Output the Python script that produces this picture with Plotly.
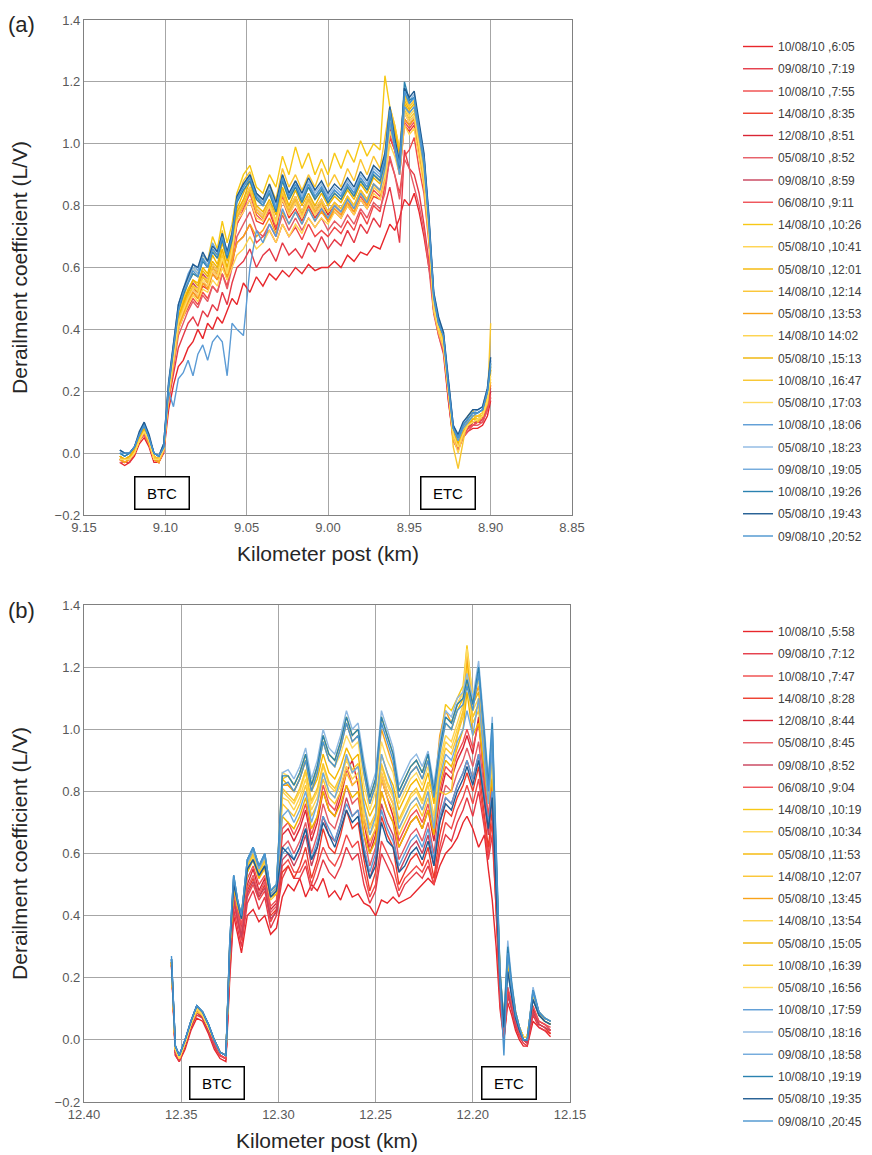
import plotly.graph_objects as go

# ---------------- Panel (a) ----------------
X_A = [9.128, 9.125, 9.122, 9.119, 9.116, 9.113, 9.110, 9.107, 9.104, 9.101,
       9.098, 9.095, 9.092, 9.089, 9.086, 9.083, 9.080, 9.077, 9.074, 9.071,
       9.068, 9.065, 9.062, 9.059, 9.056, 9.052, 9.048, 9.044, 9.040, 9.036,
       9.032, 9.028, 9.024, 9.020, 9.016, 9.012, 9.008, 9.004, 9.000, 8.996,
       8.992, 8.988, 8.984, 8.980, 8.976, 8.972, 8.968, 8.965, 8.962, 8.959,
       8.956, 8.953, 8.950, 8.947, 8.944, 8.941, 8.938, 8.935, 8.932, 8.929,
       8.926, 8.923, 8.920, 8.917, 8.914, 8.911, 8.908, 8.905, 8.902, 8.900]

LABELS_A = ["10/08/10 ,6:05", "09/08/10 ,7:19", "10/08/10 ,7:55", "14/08/10 ,8:35",
            "12/08/10 ,8:51", "05/08/10 ,8:52", "09/08/10 ,8:59", "06/08/10 ,9:11",
            "14/08/10 ,10:26", "05/08/10 ,10:41", "05/08/10 ,12:01", "14/08/10 ,12:14",
            "05/08/10 ,13:53", "14/08/10 14:02", "05/08/10 ,15:13", "10/08/10 ,16:47",
            "05/08/10 ,17:03", "10/08/10 ,18:06", "05/08/10 ,18:23", "09/08/10 ,19:05",
            "10/08/10 ,19:26", "05/08/10 ,19:43", "09/08/10 ,20:52"]

A01 = [-.03,-.04,-.03,-.01,.03,.05,.02,-.03,-.03,.00,
       .14,.22,.28,.30,.34,.36,.40,.37,.42,.40,
       .44,.42,.46,.50,.48,.55,.52,.57,.54,.58,
       .56,.59,.57,.60,.58,.61,.59,.60,.60,.62,
       .60,.64,.62,.65,.64,.67,.66,.70,.74,.72,
       .76,.82,.80,.84,.78,.70,.60,.50,.42,.34,
       .18,.04,.01,.05,.07,.08,.08,.09,.12,.17]
A02 = [-.02,-.03,-.03,.00,.04,.06,.03,-.02,-.03,.01,
       .17,.26,.34,.38,.42,.44,.41,.46,.44,.48,
       .46,.52,.48,.55,.60,.62,.66,.60,.64,.66,
       .62,.68,.64,.66,.63,.68,.65,.70,.66,.69,
       .67,.72,.68,.74,.71,.76,.73,.80,.86,.78,
       .68,.98,.92,.90,.84,.74,.62,.46,.38,.32,
       .17,.05,.02,.06,.08,.09,.10,.10,.14,.18]
A03 = [-.02,-.02,-.02,.00,.04,.07,.03,-.02,-.03,.01,
       .18,.30,.40,.44,.47,.50,.48,.52,.50,.54,
       .52,.58,.54,.62,.68,.70,.74,.68,.70,.72,
       .68,.74,.70,.73,.69,.74,.70,.72,.70,.73,
       .71,.75,.72,.78,.74,.80,.78,.86,.95,.90,
       .84,.96,.98,1.02,.92,.84,.68,.46,.40,.34,
       .19,.05,.02,.06,.08,.10,.10,.11,.15,.20]
A04 = [-.02,-.03,-.02,.00,.04,.07,.04,-.02,-.03,.01,
       .19,.30,.42,.46,.49,.52,.50,.54,.53,.58,
       .56,.62,.56,.64,.74,.78,.82,.75,.74,.78,
       .72,.82,.76,.79,.75,.80,.76,.79,.75,.78,
       .76,.80,.77,.82,.79,.83,.82,.88,1.02,.98,
       .90,1.06,1.04,1.06,.96,.88,.70,.46,.39,.35,
       .19,.05,.02,.06,.08,.10,.10,.11,.16,.22]
A05 = [-.01,-.02,-.02,.00,.04,.08,.04,-.01,-.02,.02,
       .20,.31,.43,.47,.51,.53,.52,.57,.55,.60,
       .58,.64,.58,.65,.76,.80,.85,.78,.76,.80,
       .74,.84,.78,.82,.77,.82,.78,.81,.77,.80,
       .78,.82,.79,.84,.81,.86,.84,.90,1.05,1.00,
       .92,1.08,1.06,1.08,.98,.88,.70,.47,.39,.35,
       .18,.05,.02,.06,.08,.10,.10,.11,.15,.20]
A06 = [-.03,-.03,-.02,.00,.04,.06,.03,-.02,-.03,.01,
       .17,.28,.38,.42,.46,.49,.47,.51,.49,.54,
       .52,.58,.53,.60,.70,.74,.78,.72,.70,.74,
       .70,.77,.72,.76,.72,.76,.73,.76,.72,.75,
       .73,.77,.74,.79,.76,.81,.79,.84,.96,.90,
       .82,.95,.92,.86,.80,.72,.60,.45,.38,.33,
       .17,.04,.01,.05,.07,.09,.09,.10,.14,.18]
A07 = [-.02,-.02,-.01,.01,.05,.08,.04,-.01,-.02,.02,
       .21,.32,.44,.48,.52,.55,.53,.58,.56,.61,
       .59,.65,.59,.66,.77,.81,.86,.79,.77,.81,
       .75,.85,.79,.83,.78,.83,.79,.82,.78,.81,
       .79,.83,.80,.85,.82,.87,.85,.91,1.06,1.01,
       .93,1.10,1.07,1.09,.99,.89,.71,.48,.40,.35,
       .19,.05,.02,.06,.08,.10,.10,.11,.16,.21]
A08 = [-.02,-.03,-.02,.00,.05,.07,.04,-.02,-.03,.01,
       .19,.30,.41,.45,.50,.53,.51,.55,.54,.59,
       .57,.62,.57,.63,.74,.79,.84,.77,.75,.79,
       .73,.83,.77,.81,.76,.81,.77,.80,.76,.79,
       .77,.81,.78,.83,.80,.85,.83,.89,1.03,.98,
       .90,1.07,1.05,1.07,.97,.88,.70,.47,.39,.35,
       .19,.05,.02,.06,.08,.09,.10,.11,.15,.19]
A09 = [-.01,-.02,-.01,.01,.05,.08,.04,-.01,-.02,.02,
       .20,.33,.46,.50,.56,.60,.58,.64,.62,.70,
       .66,.75,.68,.74,.84,.90,.93,.86,.84,.90,
       .86,.96,.90,.99,.92,.97,.90,.95,.90,.97,
       .92,.98,.94,1.01,.96,1.00,.98,1.22,1.12,1.06,
       .98,1.16,1.12,1.14,1.04,.94,.74,.49,.41,.37,
       .21,.07,.04,.08,.10,.12,.12,.13,.18,.28]
A10 = [-.02,-.03,-.02,.00,.04,.07,.03,-.02,-.03,.01,
       .18,.29,.40,.44,.48,.51,.49,.53,.52,.56,
       .54,.60,.56,.60,.64,.66,.70,.66,.68,.72,
       .68,.74,.70,.74,.71,.76,.73,.76,.74,.78,
       .76,.80,.77,.82,.79,.84,.82,.88,1.00,.96,
       .90,1.06,1.03,1.05,.96,.86,.69,.46,.39,.34,
       .20,.05,.00,.06,.09,.11,.11,.12,.17,.24]
A11 = [-.01,-.02,-.02,.01,.05,.08,.04,-.01,-.02,.02,
       .20,.32,.44,.49,.53,.56,.55,.60,.58,.64,
       .61,.68,.62,.68,.79,.84,.89,.82,.80,.84,
       .78,.88,.82,.86,.81,.86,.82,.85,.81,.84,
       .82,.86,.83,.88,.85,.90,.88,.96,1.10,1.05,
       .97,1.14,1.11,1.13,1.03,.93,.73,.49,.41,.37,
       .21,.07,.03,.07,.09,.11,.12,.12,.17,.27]
A12 = [-.02,-.02,-.01,.01,.05,.08,.04,-.01,-.02,.02,
       .21,.33,.45,.50,.55,.58,.57,.63,.60,.66,
       .63,.72,.64,.72,.82,.88,.91,.84,.82,.87,
       .82,.92,.86,.90,.85,.90,.86,.92,.86,.90,
       .86,.92,.88,.95,.90,.96,.92,1.02,1.12,1.06,
       .98,1.15,1.12,1.14,1.04,.94,.74,.49,.41,.37,
       .21,.08,.04,.08,.10,.12,.12,.13,.18,.29]
A13 = [-.02,-.03,-.02,.00,.04,.07,.03,-.02,-.03,.01,
       .18,.30,.41,.45,.49,.52,.50,.55,.53,.58,
       .56,.62,.57,.62,.68,.70,.74,.70,.72,.76,
       .71,.78,.74,.78,.74,.79,.75,.78,.75,.79,
       .77,.81,.78,.84,.80,.86,.84,.92,1.04,1.00,
       .93,1.08,1.06,1.08,.98,.88,.71,.47,.40,.35,
       .20,.06,.02,.06,.09,.10,.11,.12,.16,.23]
A14 = [-.02,-.02,-.01,.01,.05,.08,.04,-.01,-.02,.02,
       .20,.31,.43,.47,.51,.54,.53,.57,.56,.61,
       .59,.65,.59,.65,.77,.81,.86,.79,.77,.81,
       .75,.85,.79,.83,.78,.83,.79,.82,.78,.81,
       .79,.83,.80,.85,.82,.87,.85,.91,1.07,1.02,
       .95,1.12,1.09,1.11,1.01,.91,.72,.48,.40,.36,
       .20,.06,.03,.07,.09,.11,.11,.12,.17,.26]
A15 = [-.01,-.02,-.01,.01,.05,.08,.05,-.01,-.02,.02,
       .20,.32,.44,.48,.52,.56,.54,.59,.57,.62,
       .60,.66,.60,.67,.78,.82,.88,.80,.78,.82,
       .77,.86,.80,.85,.80,.84,.80,.84,.80,.83,
       .81,.85,.82,.87,.84,.89,.87,.94,1.09,1.04,
       .96,1.13,1.10,1.12,1.02,.92,.73,.48,.40,.36,
       .20,.07,.03,.07,.09,.11,.11,.12,.17,.27]
A16 = [-.02,-.02,-.02,.00,.04,.07,.04,-.01,-.02,.02,
       .19,.31,.43,.47,.51,.54,.52,.57,.55,.60,
       .58,.64,.58,.64,.76,.80,.85,.78,.76,.80,
       .74,.84,.78,.82,.77,.82,.78,.81,.78,.81,
       .79,.83,.80,.85,.82,.87,.85,.92,1.06,1.02,
       .94,1.11,1.08,1.10,1.00,.90,.72,.47,.40,.36,
       .22,.02,-.05,.04,.12,.14,.10,.12,.16,.42]
A17 = [-.02,-.02,-.02,.00,.04,.07,.04,-.02,-.02,.01,
       .19,.30,.42,.46,.50,.53,.51,.56,.54,.59,
       .57,.63,.58,.66,.75,.78,.82,.76,.75,.80,
       .74,.82,.77,.81,.76,.81,.77,.80,.76,.80,
       .78,.82,.79,.84,.81,.86,.84,.90,1.04,1.00,
       .92,1.10,1.07,1.09,.99,.89,.71,.47,.40,.35,
       .20,.06,.02,.06,.09,.10,.11,.12,.17,.25]
A18 = [.00,-.01,.00,.02,.06,.09,.05,.00,-.01,.02,
       .20,.15,.24,.26,.30,.25,.32,.35,.30,.36,
       .38,.36,.25,.42,.40,.38,.60,.72,.68,.74,
       .70,.79,.74,.78,.74,.79,.75,.79,.76,.80,
       .78,.82,.79,.84,.81,.87,.85,.92,1.07,.99,
       .90,1.12,1.10,1.12,1.02,.93,.74,.50,.42,.38,
       .22,.08,.04,.08,.10,.12,.13,.14,.20,.30]
A19 = [.00,-.01,.00,.02,.06,.09,.05,.00,-.01,.03,
       .22,.34,.47,.52,.56,.60,.58,.63,.61,.66,
       .64,.70,.64,.70,.82,.86,.90,.84,.81,.86,
       .80,.90,.84,.88,.83,.88,.84,.87,.83,.86,
       .84,.88,.85,.90,.87,.92,.90,.96,1.12,1.02,
       .94,1.18,1.14,1.16,1.06,.96,.76,.52,.43,.39,
       .23,.09,.05,.09,.11,.13,.14,.15,.21,.30]
A20 = [.01,.00,.00,.02,.06,.10,.05,.00,-.01,.03,
       .22,.35,.48,.53,.58,.61,.59,.64,.62,.68,
       .65,.71,.65,.71,.83,.87,.89,.83,.81,.85,
       .79,.89,.83,.87,.82,.87,.83,.86,.82,.85,
       .83,.87,.84,.89,.86,.91,.89,.95,1.11,1.00,
       .93,1.17,1.13,1.15,1.05,.96,.76,.51,.43,.38,
       .23,.09,.05,.09,.11,.13,.13,.14,.20,.29]
A21 = [.00,-.01,.00,.02,.06,.09,.05,.00,-.01,.02,
       .21,.34,.46,.51,.55,.58,.57,.62,.60,.65,
       .63,.69,.63,.69,.81,.85,.88,.82,.80,.84,
       .78,.88,.82,.86,.81,.86,.82,.85,.81,.84,
       .82,.86,.83,.88,.85,.90,.88,.94,1.10,1.00,
       .92,1.20,1.14,1.15,1.05,.95,.75,.51,.42,.38,
       .22,.08,.05,.09,.11,.13,.13,.14,.20,.28]
A22 = [.01,.00,.00,.02,.07,.10,.06,.00,-.01,.03,
       .23,.35,.48,.53,.57,.61,.60,.65,.62,.67,
       .65,.71,.65,.71,.83,.87,.90,.84,.82,.87,
       .81,.90,.84,.88,.84,.89,.85,.88,.84,.87,
       .85,.89,.86,.91,.88,.93,.91,.97,1.12,1.02,
       .94,1.18,1.15,1.17,1.07,.97,.77,.52,.44,.39,
       .24,.09,.06,.10,.12,.14,.14,.15,.21,.31]
A23 = [.00,.00,.00,.02,.06,.09,.05,.00,-.01,.02,
       .22,.34,.46,.52,.55,.59,.57,.63,.60,.66,
       .64,.70,.64,.70,.82,.86,.89,.83,.80,.85,
       .79,.89,.83,.87,.82,.87,.83,.86,.82,.85,
       .83,.87,.84,.89,.86,.91,.89,.95,1.11,1.00,
       .93,1.17,1.13,1.15,1.05,.95,.75,.51,.42,.38,
       .22,.08,.05,.09,.11,.13,.13,.14,.20,.29]

# ---------------- Panel (b) ----------------
X_B = [12.355, 12.353, 12.351, 12.348, 12.345, 12.342, 12.339, 12.336, 12.333, 12.330, 12.327, 12.325,
       12.323, 12.321, 12.319, 12.316, 12.313, 12.310, 12.307, 12.304, 12.301, 12.298, 12.295, 12.292,
       12.289, 12.286, 12.283, 12.280, 12.277, 12.274, 12.271, 12.268, 12.265, 12.262, 12.259, 12.256,
       12.253, 12.250, 12.247, 12.244, 12.241, 12.238, 12.235, 12.232, 12.229, 12.226, 12.223, 12.220,
       12.217, 12.214, 12.211, 12.208, 12.205, 12.203, 12.200, 12.197, 12.194, 12.192, 12.190, 12.188,
       12.186, 12.184, 12.182, 12.180, 12.178, 12.176, 12.174, 12.172, 12.169, 12.166, 12.163, 12.160]

LABELS_B = ["10/08/10 ,5:58", "09/08/10 ,7:12", "10/08/10 ,7:47", "14/08/10 ,8:28",
            "12/08/10 ,8:44", "05/08/10 ,8:45", "09/08/10 ,8:52", "06/08/10 ,9:04",
            "14/08/10 ,10:19", "05/08/10 ,10:34", "05/08/10 ,11:53", "14/08/10 ,12:07",
            "05/08/10 ,13:45", "14/08/10 ,13:54", "05/08/10 ,15:05", "10/08/10 ,16:39",
            "05/08/10 ,16:56", "10/08/10 ,17:59", "05/08/10 ,18:16", "09/08/10 ,18:58",
            "10/08/10 ,19:19", "05/08/10 ,19:35", "09/08/10 ,20:45"]

B01 = [.24,-.05,-.07,-.03,.03,.07,.06,.02,-.03,-.06,-.07,.20,
       .40,.34,.28,.40,.42,.38,.40,.34,.36,.46,.50,.48,
       .52,.46,.50,.48,.52,.46,.48,.45,.50,.46,.47,.44,
       .43,.40,.45,.44,.46,.44,.45,.46,.48,.50,.52,.50,
       .56,.60,.62,.65,.70,.72,.68,.62,.66,.55,.45,.30,
       .10,.00,.12,.08,.03,.00,-.02,-.02,.06,.04,.03,.01]
B02 = [.24,-.05,-.07,-.02,.04,.08,.07,.03,-.02,-.05,-.06,.22,
       .42,.36,.30,.44,.48,.42,.46,.36,.40,.52,.56,.52,
       .52,.56,.48,.52,.58,.54,.52,.56,.62,.58,.60,.50,
       .44,.48,.60,.56,.52,.46,.50,.52,.54,.52,.56,.50,
       .60,.66,.64,.70,.74,.78,.72,.80,.68,.58,.66,.42,
       .12,.00,.14,.10,.04,.01,-.01,-.02,.08,.04,.03,.02]
B03 = [.25,-.04,-.06,-.02,.04,.09,.07,.03,-.02,-.05,-.06,.24,
       .44,.38,.32,.46,.50,.45,.48,.38,.42,.56,.58,.54,
       .54,.58,.50,.56,.62,.58,.56,.60,.66,.62,.64,.54,
       .46,.50,.64,.60,.56,.48,.52,.54,.56,.54,.58,.50,
       .62,.70,.68,.74,.78,.82,.76,.84,.70,.60,.70,.44,
       .13,.00,.15,.10,.05,.02,.00,-.01,.09,.05,.04,.02]
B04 = [.25,-.04,-.06,-.02,.04,.09,.07,.03,-.02,-.05,-.06,.26,
       .46,.40,.34,.48,.52,.46,.50,.40,.42,.54,.56,.52,
       .56,.62,.52,.58,.68,.62,.60,.66,.74,.68,.70,.58,
       .48,.54,.72,.66,.62,.50,.54,.58,.60,.56,.62,.52,
       .66,.74,.72,.78,.82,.86,.80,.88,.72,.62,.74,.46,
       .14,.01,.16,.11,.05,.02,.00,-.01,.10,.05,.04,.02]
B05 = [.25,-.04,-.06,-.01,.05,.09,.08,.03,-.02,-.05,-.06,.28,
       .48,.42,.36,.50,.55,.48,.52,.42,.44,.66,.68,.64,
       .68,.74,.64,.70,.80,.74,.72,.78,.86,.90,.82,.70,
       .60,.66,.84,.78,.72,.62,.66,.70,.72,.68,.74,.64,
       .78,.86,.84,.90,.94,.98,.92,1.04,.82,.70,.84,.52,
       .15,.00,.16,.12,.05,.02,.00,-.01,.10,.06,.05,.03]
B06 = [.25,-.04,-.06,-.01,.05,.09,.08,.03,-.02,-.05,-.06,.27,
       .47,.40,.35,.49,.53,.47,.51,.41,.43,.62,.64,.60,
       .64,.70,.60,.66,.76,.70,.68,.74,.82,.76,.78,.66,
       .56,.62,.80,.74,.70,.58,.62,.66,.68,.64,.70,.60,
       .74,.82,.80,.86,.90,.94,.88,.96,.80,.68,.82,.50,
       .14,.01,.15,.11,.05,.02,.00,-.01,.09,.06,.05,.03]
B07 = [.24,-.04,-.06,-.02,.04,.09,.07,.03,-.02,-.05,-.06,.25,
       .45,.39,.33,.47,.51,.46,.49,.39,.41,.58,.60,.56,
       .60,.66,.56,.62,.72,.66,.64,.70,.78,.72,.74,.62,
       .52,.58,.76,.70,.66,.54,.58,.62,.64,.60,.66,.56,
       .70,.78,.76,.82,.86,.90,.84,.92,.76,.66,.78,.48,
       .14,.01,.15,.10,.05,.02,.00,-.01,.09,.05,.04,.03]
B08 = [.25,-.04,-.06,-.01,.05,.10,.08,.04,-.01,-.05,-.06,.29,
       .49,.42,.37,.52,.56,.50,.53,.43,.45,.68,.70,.66,
       .70,.76,.66,.72,.82,.76,.74,.80,.88,.82,.84,.72,
       .62,.68,.86,.80,.76,.64,.68,.72,.74,.70,.76,.66,
       .80,.88,.86,.92,.96,1.00,.94,1.02,.84,.72,.86,.50,
       .16,.01,.17,.12,.06,.02,.00,.00,.11,.06,.05,.04]
B09 = [.25,-.03,-.06,-.01,.05,.10,.08,.04,.00,-.04,-.05,.30,
       .50,.44,.40,.56,.60,.54,.58,.47,.49,.84,.85,.82,
       .86,.92,.82,.88,.98,.92,.90,.96,1.04,.98,1.00,.88,
       .78,.84,1.04,.98,.92,.80,.84,.88,.90,.86,.92,.80,
       .96,1.08,1.06,1.10,1.14,1.27,1.10,1.18,.96,.82,.94,.58,
       .22,.06,.28,.18,.09,.04,.01,.01,.15,.09,.07,.06]
B10 = [.25,-.03,-.06,-.01,.05,.10,.08,.04,.00,-.04,-.05,.30,
       .50,.43,.40,.55,.58,.52,.56,.46,.48,.80,.78,.76,
       .80,.86,.76,.80,.88,.82,.80,.84,.90,.86,.88,.74,
       .68,.72,.88,.82,.78,.70,.74,.78,.80,.76,.82,.72,
       .90,.98,.96,1.02,1.08,1.20,1.06,1.10,.92,.80,.90,.55,
       .20,.05,.26,.16,.08,.04,.01,.01,.14,.08,.06,.05]
B11 = [.25,-.03,-.05,-.01,.05,.10,.08,.04,.00,-.04,-.05,.31,
       .51,.44,.41,.56,.60,.54,.57,.47,.49,.84,.82,.80,
       .84,.90,.80,.84,.92,.86,.84,.88,.94,.90,.92,.78,
       .72,.76,.92,.86,.82,.74,.78,.82,.84,.80,.86,.76,
       .94,1.02,1.00,1.06,1.10,1.22,1.08,1.12,.94,.82,.92,.56,
       .21,.05,.27,.17,.08,.04,.01,.01,.15,.08,.06,.05]
B12 = [.25,-.03,-.06,-.01,.05,.09,.08,.04,.00,-.04,-.05,.29,
       .49,.43,.39,.54,.58,.52,.55,.45,.47,.76,.74,.72,
       .76,.82,.72,.76,.84,.78,.76,.80,.86,.82,.84,.70,
       .64,.68,.84,.78,.74,.66,.70,.74,.76,.72,.78,.68,
       .86,.94,.92,.98,1.04,1.16,1.02,1.06,.88,.78,.86,.53,
       .19,.05,.25,.16,.08,.04,.01,.01,.14,.08,.06,.05]
B13 = [.25,-.03,-.06,-.01,.05,.10,.08,.04,.00,-.04,-.05,.30,
       .50,.44,.40,.56,.61,.55,.58,.47,.49,.82,.82,.80,
       .84,.90,.80,.86,.96,.90,.88,.94,1.02,.96,.98,.86,
       .76,.82,1.00,.94,.88,.78,.82,.86,.88,.84,.90,.78,
       .98,1.06,1.02,1.08,1.12,1.24,1.08,1.14,.94,.82,.96,.58,
       .21,.06,.27,.17,.09,.04,.01,.01,.15,.09,.07,.06]
B14 = [.25,-.03,-.06,-.01,.05,.10,.08,.04,.00,-.04,-.05,.30,
       .50,.43,.40,.55,.59,.53,.57,.46,.48,.78,.77,.74,
       .78,.84,.74,.78,.86,.80,.78,.82,.88,.84,.86,.72,
       .66,.70,.86,.80,.76,.68,.72,.76,.78,.74,.80,.70,
       .88,.96,.94,1.00,1.06,1.18,1.04,1.08,.90,.78,.88,.54,
       .20,.05,.25,.16,.08,.04,.01,.01,.14,.08,.06,.05]
B15 = [.25,-.03,-.06,-.01,.05,.10,.08,.04,.00,-.04,-.05,.29,
       .49,.43,.39,.54,.58,.52,.56,.46,.47,.72,.70,.68,
       .72,.78,.68,.72,.80,.74,.72,.76,.82,.78,.80,.66,
       .60,.64,.80,.74,.70,.62,.66,.70,.72,.68,.74,.66,
       .82,.90,.88,.94,1.00,1.12,.98,1.02,.86,.76,.84,.52,
       .19,.05,.24,.15,.08,.04,.01,.01,.13,.08,.06,.05]
B16 = [.25,-.03,-.06,-.01,.05,.10,.08,.04,.00,-.04,-.05,.30,
       .50,.44,.40,.56,.60,.54,.58,.47,.49,.81,.79,.77,
       .81,.87,.77,.81,.89,.83,.81,.85,.91,.87,.89,.75,
       .69,.73,.89,.83,.79,.71,.75,.79,.81,.77,.83,.79,
       .80,.79,.80,.98,1.06,1.18,1.04,1.08,.90,.80,.90,.55,
       .20,.05,.26,.16,.08,.04,.01,.01,.14,.08,.06,.05]
B17 = [.25,-.03,-.06,-.01,.05,.10,.08,.04,.00,-.04,-.05,.31,
       .51,.44,.41,.57,.61,.55,.59,.48,.50,.86,.85,.82,
       .86,.92,.82,.86,.96,.90,.88,.92,.98,.94,.96,.82,
       .74,.80,.96,.90,.86,.76,.80,.84,.86,.82,.88,.78,
       .94,1.04,1.02,1.08,1.12,1.26,1.10,1.16,.96,.84,.96,.58,
       .21,.06,.28,.17,.09,.04,.01,.01,.15,.09,.07,.06]
B18 = [.26,-.02,-.05,.00,.06,.11,.09,.05,.00,-.04,-.05,.30,
       .51,.44,.39,.55,.58,.53,.56,.46,.48,.60,.62,.58,
       .62,.68,.58,.64,.72,.68,.64,.70,.76,.72,.74,.62,
       .54,.60,.74,.68,.64,.56,.60,.64,.66,.62,.68,.58,
       .72,.78,.76,.82,.86,.90,.84,.92,.78,.70,.80,.50,
       .18,.04,.22,.14,.07,.03,.00,.00,.13,.08,.06,.05]
B19 = [.26,-.02,-.05,.00,.06,.11,.09,.05,.00,-.04,-.05,.32,
       .53,.45,.40,.58,.62,.56,.60,.48,.50,.86,.87,.84,
       .88,.94,.84,.90,1.00,.94,.92,.98,1.06,1.00,1.02,.90,
       .80,.86,1.06,1.00,.94,.82,.86,.90,.92,.88,.93,.82,
       .96,1.06,1.04,1.10,1.12,1.18,1.10,1.22,1.00,.84,1.04,.60,
       .22,.06,.32,.19,.09,.04,.00,.00,.17,.09,.07,.06]
B20 = [.26,-.02,-.05,.00,.06,.11,.09,.05,.00,-.04,-.05,.31,
       .52,.45,.40,.57,.61,.55,.59,.47,.49,.72,.74,.70,
       .74,.80,.70,.76,.86,.80,.78,.84,.92,.86,.88,.76,
       .66,.72,.92,.86,.80,.68,.72,.76,.78,.74,.80,.68,
       .84,.92,.90,.96,1.00,1.06,.98,1.10,.90,.76,.94,.56,
       .20,.05,.28,.17,.08,.04,.00,.00,.15,.09,.07,.06]
B21 = [.26,-.02,-.05,.00,.06,.11,.09,.05,.00,-.04,-.05,.32,
       .53,.45,.40,.58,.62,.56,.60,.48,.50,.85,.85,.82,
       .86,.92,.82,.88,.98,.92,.90,.96,1.04,.98,1.00,.88,
       .78,.84,1.04,.98,.92,.80,.84,.88,.90,.86,.92,.80,
       .94,1.04,1.02,1.08,1.10,1.16,1.08,1.20,.98,.82,1.02,.58,
       .22,.06,.30,.18,.09,.04,.00,.00,.16,.09,.07,.06]
B22 = [.26,-.02,-.05,.00,.06,.11,.09,.05,.00,-.04,-.05,.30,
       .50,.44,.39,.55,.58,.53,.56,.46,.48,.62,.60,.58,
       .62,.68,.58,.62,.70,.66,.62,.68,.74,.70,.72,.60,
       .52,.56,.70,.64,.62,.54,.56,.60,.62,.58,.64,.56,
       .70,.76,.74,.80,.84,.88,.82,.90,.76,.68,.78,.48,
       .18,.04,.22,.14,.07,.03,.00,.00,.13,.08,.06,.05]
B23 = [.27,-.02,-.05,.00,.06,.11,.09,.05,.00,-.04,-.05,.32,
       .53,.45,.40,.58,.62,.56,.60,.48,.50,.82,.83,.80,
       .84,.90,.80,.86,.96,.90,.88,.94,1.02,.96,.98,.86,
       .76,.82,1.02,.96,.90,.78,.82,.86,.88,.84,.90,.78,
       .92,1.02,1.00,1.06,1.08,1.14,1.06,1.18,.96,.80,1.00,.56,
       .20,-.05,.28,.17,.08,.04,.00,.00,.16,.09,.07,.06]

SERIES_A = [A01, A02, A03, A04, A05, A06, A07, A08, A09, A10, A11, A12,
            A13, A14, A15, A16, A17, A18, A19, A20, A21, A22, A23]
SERIES_B = [B01, B02, B03, B04, B05, B06, B07, B08, B09, B10, B11, B12,
            B13, B14, B15, B16, B17, B18, B19, B20, B21, B22, B23]

COLORS = ['#e8262b', '#e53946', '#f04848', '#ee3a2a', '#d92534', '#e65a64', '#c8405a', '#ef4f55',
          '#f7c815', '#ffd34d', '#f5b700', '#fbc531', '#f9a31a', '#fdd24a', '#f0b400', '#f8c62c', '#ffdb62',
          '#5b9bd5', '#8db8e2', '#6fa8dc', '#2a82b0', '#1f5b91', '#4a94cf']

FONT = "Liberation Sans, Arial, sans-serif"

fig = go.Figure()
for i, (lab, ys) in enumerate(zip(LABELS_A, SERIES_A)):
    fig.add_trace(go.Scatter(x=X_A, y=ys, mode="lines", name=lab,
                             line=dict(color=COLORS[i], width=1.4),
                             xaxis="x", yaxis="y", legend="legend",
                             legendgroup="a%d" % i))
for i, (lab, ys) in enumerate(zip(LABELS_B, SERIES_B)):
    fig.add_trace(go.Scatter(x=X_B, y=ys, mode="lines", name=lab,
                             line=dict(color=COLORS[i], width=1.4),
                             xaxis="x2", yaxis="y2", legend="legend2",
                             legendgroup="b%d" % i))

axis_common = dict(showgrid=True, gridcolor="#a6a6a6", gridwidth=1,
                   showline=True, linecolor="#808080", linewidth=1.3, mirror=True,
                   zeroline=False, ticks="", automargin=False,
                   tickfont=dict(family=FONT, size=13, color="#595959"))
xt = dict(text="Kilometer post (km)", font=dict(family=FONT, size=21, color="#262626"), standoff=12)
yt = dict(text="Derailment coefficient (L/V)", font=dict(family=FONT, size=21, color="#262626"), standoff=28)

W, H = 872, 1155

fig.update_layout(
    width=W, height=H,
    margin=dict(l=76, r=308, t=12, b=61, autoexpand=False),
    paper_bgcolor="white", plot_bgcolor="white",
    font=dict(family=FONT, color="#404040"),
    xaxis=dict(domain=[0, 1], anchor="y", range=[9.15, 8.85], dtick=0.05, tick0=8.85,
               tickformat=".2f", title=xt, **axis_common),
    yaxis=dict(domain=[0.5425, 1], anchor="x", range=[-0.2, 1.4], dtick=0.2, tick0=0,
               tickformat=".1f", title=yt, **axis_common),
    xaxis2=dict(domain=[0, 0.9959], anchor="y2", range=[12.40, 12.15], dtick=0.05, tick0=12.15,
                tickformat=".2f", title=xt, **axis_common),
    yaxis2=dict(domain=[0, 0.4593], anchor="x2", range=[-0.2, 1.4], dtick=0.2, tick0=0,
                tickformat=".1f", title=yt, **axis_common),
    legend=dict(xref="container", yref="container", x=730 / W, y=1 - 24 / H,
                xanchor="left", yanchor="top", font=dict(family=FONT, size=12, color="#404040"),
                tracegroupgap=3.25, bgcolor="rgba(0,0,0,0)", itemclick=False),
    legend2=dict(xref="container", yref="container", x=730 / W, y=1 - 609 / H,
                 xanchor="left", yanchor="top", font=dict(family=FONT, size=12, color="#404040"),
                 tracegroupgap=3.25, bgcolor="rgba(0,0,0,0)", itemclick=False),
)

box = dict(showarrow=False, font=dict(family=FONT, size=15, color="#000000"),
           bgcolor="white", bordercolor="#000000", borderwidth=1.5,
           width=49, height=27, borderpad=2)
fig.add_annotation(x=9.1018, y=-0.130, xref="x", yref="y", text="BTC", **box)
fig.add_annotation(x=8.926, y=-0.130, xref="x", yref="y", text="ETC", **box)
fig.add_annotation(x=12.3317, y=-0.139, xref="x2", yref="y2", text="BTC", **box)
fig.add_annotation(x=12.1813, y=-0.139, xref="x2", yref="y2", text="ETC", **box)

fig.add_annotation(x=(13 - 76) / 488, y=(1094 - 17) / 1082, xref="paper", yref="paper", text="(a)",
                   xanchor="center", yanchor="middle",
                   showarrow=False, font=dict(family=FONT, size=22, color="#262626"))
fig.add_annotation(x=(13 - 76) / 488, y=(1094 - 602) / 1082, xref="paper", yref="paper", text="(b)",
                   xanchor="center", yanchor="middle",
                   showarrow=False, font=dict(family=FONT, size=22, color="#262626"))

fig.write_html("out.html")
